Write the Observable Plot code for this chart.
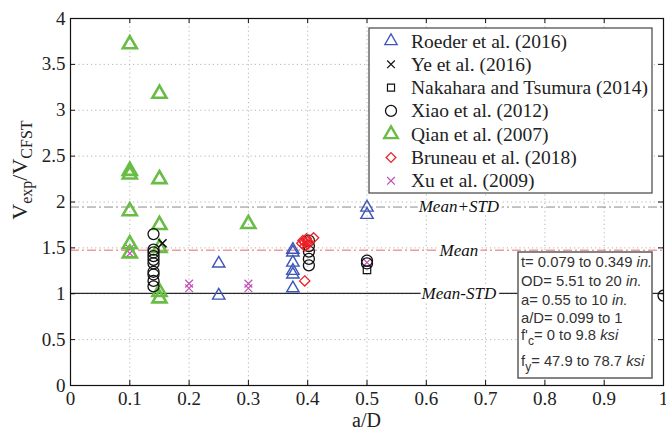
<!DOCTYPE html>
<html><head><meta charset="utf-8">
<script src="https://cdn.jsdelivr.net/npm/d3@7"></script>
<script src="https://cdn.jsdelivr.net/npm/@observablehq/plot@0.6"></script>
<style>
body{margin:0;background:#fff}
#chart{position:relative;width:666px;height:435px}
</style>
</head><body><div id="chart"></div>
<script>
// ---- axis ticks ----
const xTicks = [0,0.1,0.2,0.3,0.4,0.5,0.6,0.7,0.8,0.9,1];
const xTickLabels = ["0","0.1","0.2","0.3","0.4","0.5","0.6","0.7","0.8","0.9","1"];
const yTicks = [0,0.5,1,1.5,2,2.5,3,3.5,4];
const yTickLabels = ["0","0.5","1","1.5","2","2.5","3","3.5","4"];

// ---- series ----
const roederX = [0.25,0.25,0.375,0.375,0.375,0.375,0.375,0.375,0.5,0.5];
const roederY = [1.33,0.98,1.48,1.45,1.34,1.25,1.21,1.06,1.94,1.86];
const yeX = [0.155];
const yeY = [1.55];
const nakaharaX = [0.5];
const nakaharaY = [1.26];
const xiaoX = [0.14,0.14,0.14,0.14,0.14,0.14,0.14,0.14,0.14,0.14,0.402,0.402,0.402,0.402,0.402,0.5,0.5,1.0];
const xiaoY = [1.65,1.48,1.45,1.41,1.37,1.33,1.24,1.21,1.14,1.08,1.58,1.52,1.46,1.38,1.31,1.36,1.33,0.98];
const qianX = [0.1,0.1,0.1,0.1,0.1,0.1,0.15,0.15,0.15,0.15,0.15,0.15,0.3];
const qianY = [3.72,2.34,2.30,1.90,1.54,1.44,3.18,2.25,1.75,1.50,1.02,0.95,1.76];
const bruneauX = [0.39,0.392,0.395,0.398,0.40,0.395,0.40,0.41,0.395];
const bruneauY = [1.55,1.58,1.56,1.60,1.54,1.52,1.57,1.61,1.14];
const xuX = [0.1,0.1,0.2,0.2,0.3,0.3,0.5];
const xuY = [1.49,1.44,1.11,1.06,1.11,1.06,1.34];

// ---- reference lines ----
const lineNames = ["Mean+STD","Mean","Mean-STD"];
const lineValues = [1.945,1.475,1.005];
const lineLabelX = 0.655;

// ---- legend text ----
const legendNames = ["Roeder et al. (2016)","Ye et al. (2016)","Nakahara and Tsumura (2014)","Xiao et al. (2012)","Qian et al. (2007)","Bruneau et al. (2018)","Xu et al. (2009)"];

const toRows = (xs, ys) => xs.map((x,i)=>({x, y: ys[i]}));
const roeder = toRows(roederX, roederY);
const ye = toRows(yeX, yeY);
const nakahara = toRows(nakaharaX, nakaharaY);
const xiao = toRows(xiaoX, xiaoY);
const qian = toRows(qianX, qianY);
const bruneau = toRows(bruneauX, bruneauY);
const xu = toRows(xuX, xuY);
const lineRows = lineNames.map((n,i)=>({name:n, y: lineValues[i]}));

const W = 666, H = 435, mL = 70, mR = 3, mT = 18, mB = 50;
const tickPx = 5;
const tx = tickPx / (W - mL - mR);
const ty = tickPx * 4 / (H - mT - mB);

const serif = "'Liberation Serif','Times New Roman',Times,serif";
const sans = "'Liberation Sans',Arial,Helvetica,sans-serif";

const BLUE = "#3d55b8", GREEN = "#69bd45", RED = "#ec2228", PURPLE = "#c04fb4";

const plot = Plot.plot({
  width: W, height: H,
  marginLeft: mL, marginRight: mR, marginTop: mT, marginBottom: mB,
  style: {fontFamily: serif, fontSize: "19px", background: "white", color: "#222", overflow: "visible"},
  x: {domain: [0,1]},
  y: {domain: [0,4]},
  marks: [
    Plot.gridX(xTicks.slice(1,-1), {stroke:"#b5b5b5", strokeOpacity:1, strokeDasharray:"1.2,3"}),
    Plot.gridY(yTicks.slice(1,-1), {stroke:"#b5b5b5", strokeOpacity:1, strokeDasharray:"1.2,3"}),
    Plot.ruleY(lineRows.slice(0,1), {y:"y", stroke:"#8a8a8a", strokeWidth:1, strokeDasharray:"9,3,2,3"}),
    Plot.ruleY(lineRows.slice(1,2), {y:"y", stroke:"#e66a6a", strokeWidth:1, strokeDasharray:"9,3,2,3"}),
    Plot.ruleY(lineRows.slice(2,3), {y:"y", stroke:"#2a2a2a", strokeWidth:1.2}),
    Plot.text(lineRows, {x: () => lineLabelX, y:"y", text:"name", fontStyle:"italic", fontSize:17, fill:"#111", stroke:"white", strokeWidth:6}),
    Plot.ruleX(xTicks, {x: d=>d, y1: 0, y2: ty, stroke:"#111"}),
    Plot.ruleX(xTicks, {x: d=>d, y1: 4 - ty, y2: 4, stroke:"#111"}),
    Plot.ruleY(yTicks, {y: d=>d, x1: 0, x2: tx, stroke:"#111"}),
    Plot.ruleY(yTicks, {y: d=>d, x1: 1 - tx, x2: 1, stroke:"#111"}),
    Plot.dot(xu, {x:"x", y:"y", symbol:"times", r:3.6, stroke:PURPLE, strokeWidth:1.2}),
    Plot.dot(qian, {x:"x", y:"y", symbol:"triangle", r:5.2, stroke:GREEN, strokeWidth:2.6, fill:"none"}),
    Plot.dot(roeder, {x:"x", y:"y", symbol:"triangle", r:4.6, stroke:BLUE, strokeWidth:1.4, fill:"none"}),
    Plot.dot(xiao, {x:"x", y:"y", symbol:"circle", r:5.5, stroke:"#111", strokeWidth:1.3, fill:"none", clip:true}),
    Plot.dot(nakahara, {x:"x", y:"y", symbol:"square", r:4.2, stroke:"#111", strokeWidth:1.2, fill:"none"}),
    Plot.dot(bruneau, {x:"x", y:"y", symbol:"diamond2", r:4.6, stroke:RED, strokeWidth:1.3, fill:"none"}),
    Plot.dot(ye, {x:"x", y:"y", symbol:"times", r:3.8, stroke:"#111", strokeWidth:1.6}),
    Plot.frame({stroke:"#111", strokeWidth:1.2}),
    Plot.axisX(xTicks, {tickSize:0, tickPadding:6, tickFormat:(d)=>xTickLabels[xTicks.indexOf(d)], label:null, fontSize:19}),
    Plot.axisY(yTicks, {tickSize:0, tickPadding:5, tickFormat:(d)=>yTickLabels[yTicks.indexOf(d)], label:null, fontSize:19})
  ]
});
document.getElementById("chart").appendChild(plot);

const svg = d3.select(plot);

// x label
svg.append("text").attr("x", (mL + W - mR)/2).attr("y", 427)
  .attr("text-anchor","middle").attr("font-family", serif).attr("font-size", 20).attr("fill","#222").text("a/D");

// y label with subscripts
const yl = svg.append("text").attr("transform","translate(27,170) rotate(-90)")
  .attr("text-anchor","middle").attr("font-family", serif).attr("font-size", 22).attr("fill","#222");
yl.append("tspan").text("V");
yl.append("tspan").attr("font-size",16).attr("dy",5).text("exp");
yl.append("tspan").attr("dy",-5).text("/V");
yl.append("tspan").attr("font-size",16).attr("dy",5).text("CFST");

// legend
const lg = svg.append("g").attr("text-anchor","start");
lg.append("rect").attr("x",369).attr("y",28).attr("width",283).attr("height",165)
  .attr("fill","white").attr("stroke","#444").attr("stroke-width",1.2);
const legendSym = [
  {type:d3.symbolTriangle, size:66, stroke:BLUE, sw:1.3},
  {type:d3.symbolTimes, size:40, stroke:"#111", sw:1.2},
  {type:d3.symbolSquare, size:50, stroke:"#111", sw:1.2},
  {type:d3.symbolCircle, size:95, stroke:"#111", sw:1.3},
  {type:d3.symbolTriangle, size:80, stroke:GREEN, sw:2.4},
  {type:d3.symbolDiamond2, size:60, stroke:RED, sw:1.3},
  {type:d3.symbolTimes, size:40, stroke:PURPLE, sw:1.2}
];
legendNames.forEach((name,i)=>{
  const cy = 41 + i*23.3;
  const s = legendSym[i];
  lg.append("path").attr("transform",`translate(391,${cy})`)
    .attr("d", d3.symbol(s.type, s.size)()).attr("fill","none").attr("stroke",s.stroke).attr("stroke-width",s.sw);
  lg.append("text").attr("x",411).attr("y",cy+6.5).attr("text-anchor","start").attr("font-family",serif).attr("font-size",19.5).attr("fill","#222").text(name);
});

// parameter note box
const nb = svg.append("g").attr("text-anchor","start");
nb.append("rect").attr("x",518).attr("y",252).attr("width",134).attr("height",126)
  .attr("fill","white").attr("stroke","#666").attr("stroke-width",1.6);
const noteLine = (y, parts) => {
  const t = nb.append("text").attr("x",521).attr("y",y).attr("text-anchor","start").attr("font-family",sans).attr("font-size",14.8).attr("fill","#333");
  parts.forEach(p=>{
    const ts = t.append("tspan").text(p.t);
    if (p.i) ts.attr("font-style","italic");
    if (p.dy) ts.attr("dy",p.dy);
    if (p.fs) ts.attr("font-size",p.fs);
  });
};
noteLine(267, [{t:"t= 0.079 to 0.349 "},{t:"in.", i:1}]);
noteLine(286, [{t:"OD= 5.51 to 20 "},{t:"in.", i:1}]);
noteLine(305, [{t:"a= 0.55 to 10 "},{t:"in.", i:1}]);
noteLine(323, [{t:"a/D= 0.099 to 1"}]);
noteLine(340, [{t:"f'"},{t:"c", dy:5, fs:12},{t:"= 0 to 9.8 ", dy:-5},{t:"ksi", i:1}]);
noteLine(366, [{t:"f"},{t:"y", dy:5, fs:12},{t:"= 47.9 to 78.7 ", dy:-5},{t:"ksi", i:1}]);
</script>
</body></html>
